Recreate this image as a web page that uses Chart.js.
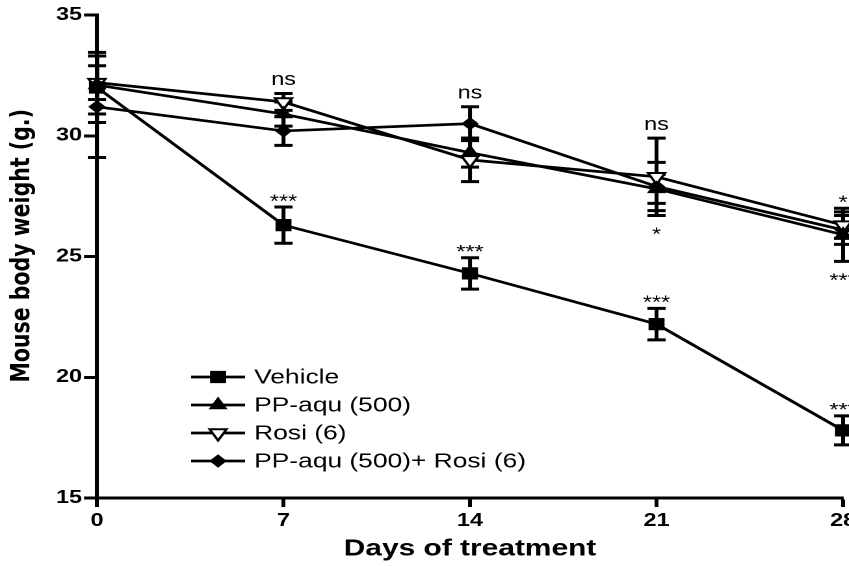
<!DOCTYPE html>
<html>
<head>
<meta charset="utf-8">
<script src="https://cdn.jsdelivr.net/npm/chart.js@4.4.1/dist/chart.umd.min.js"></script>
<style>
  html, body { margin: 0; padding: 0; background: #fff; overflow: hidden; }
  #wrap { width: 849px; height: 566px; overflow: hidden; }
  /* the original figure is stretched sideways, so the canvas is too */
  #myChart { display: block; transform: scaleX(1.3); transform-origin: 0 0; }
</style>
</head>
<body>
<div id="wrap"><canvas id="myChart" width="670" height="566"></canvas></div>
<script>
// days of treatment and mean body weight (g.) with error bars
var days = [0, 7, 14, 21, 28];
var seriesNames = ['Vehicle', 'PP-aqu (500)', 'Rosi (6)', 'PP-aqu (500)+ Rosi (6)'];
var vehicle    = [32.0, 26.3, 24.3, 22.2, 17.8];
var vehicleErr = [1.45, 0.75, 0.65, 0.65, 0.6];
var ppAqu      = [32.1, 30.9, 29.3, 27.8, 25.9];
var ppAquErr   = [1.2, 0.5, 0.6, 0.6, 1.1];
var rosi       = [32.2, 31.4, 29.0, 28.3, 26.3];
var rosiErr    = [0.7, 0.35, 0.9, 1.6, 0.55];
var combo      = [31.2, 30.2, 30.5, 27.9, 26.1];
var comboErr   = [2.1, 0.6, 0.7, 1.0, 0.6];
var yTicks = [15, 20, 25, 30, 35];

// significance marks: day, text, series it belongs to, above or below its error bar
var sigDays   = [7, 14, 21, 7, 14, 21, 28, 21, 28, 28];
var sigText   = ['ns', 'ns', 'ns', '***', '***', '***', '***', '*', '*', '***'];
var sigSeries = [2, 3, 2, 0, 0, 0, 0, 2, 1, 1];
var sigSide   = ['above', 'above', 'above', 'above', 'above', 'above', 'above', 'below', 'above', 'below'];

var seriesValues = [vehicle, ppAqu, rosi, combo];
var seriesErrors = [vehicleErr, ppAquErr, rosiErr, comboErr];

// marker look per series
var markers = [
  { style: 'rect', radius: 8, rotation: 0, fill: '#000' },
  { style: 'triangle', radius: 7.5, rotation: 0, fill: '#000' },
  { style: 'triangle', radius: 7.5, rotation: 180, fill: '#fff' },
  { style: 'rectRot', radius: 6, rotation: 0, fill: '#000' }
];

var datasets = seriesNames.map(function (name, s) {
  return {
    label: name,
    data: days.map(function (d, i) { return { x: d, y: seriesValues[s][i] }; }),
    borderColor: '#000',
    borderWidth: 2.7,
    tension: 0,
    pointStyle: markers[s].style,
    pointRadius: markers[s].radius,
    pointRotation: markers[s].rotation,
    pointBackgroundColor: markers[s].fill,
    pointBorderColor: '#000',
    pointBorderWidth: markers[s].fill === '#fff' ? 2 : 1,
    clip: false
  };
});

// vertical error bars with caps
var errorBars = {
  id: 'errorBars',
  beforeDatasetsDraw: function (chart) {
    var ctx = chart.ctx, y = chart.scales.y;
    ctx.save();
    ctx.strokeStyle = '#000';
    ctx.lineWidth = 3;
    chart.data.datasets.forEach(function (ds, s) {
      var meta = chart.getDatasetMeta(s);
      meta.data.forEach(function (pt, i) {
        var m = seriesValues[s][i], e = seriesErrors[s][i];
        var top = y.getPixelForValue(m + e), bot = y.getPixelForValue(m - e);
        ctx.beginPath();
        ctx.moveTo(pt.x, top); ctx.lineTo(pt.x, bot);
        ctx.moveTo(pt.x - 7, top); ctx.lineTo(pt.x + 7, top);
        ctx.moveTo(pt.x - 7, bot); ctx.lineTo(pt.x + 7, bot);
        ctx.stroke();
      });
    });
    ctx.restore();
  }
};

// ns / star labels over or under the error bars
var sigMarks = {
  id: 'sigMarks',
  afterDatasetsDraw: function (chart) {
    var ctx = chart.ctx, xs = chart.scales.x, ys = chart.scales.y;
    ctx.save();
    ctx.fillStyle = '#000';
    ctx.textAlign = 'center';
    ctx.textBaseline = 'alphabetic';
    ctx.font = '18px "Liberation Sans", Arial, sans-serif';
    sigDays.forEach(function (d, k) {
      var s = sigSeries[k], i = days.indexOf(d);
      var m = seriesValues[s][i], e = seriesErrors[s][i];
      var cx = xs.getPixelForValue(d);
      var center;
      if (sigSide[k] === 'above') center = ys.getPixelForValue(m + e) - (sigText[k] === 'ns' ? 13 : 10);
      else center = ys.getPixelForValue(m - e) + 15;
      // shift from glyph centre to baseline
      var base = center + (sigText[k] === 'ns' ? 4.7 : 10.3);
      ctx.fillText(sigText[k], cx, base);
    });
    ctx.restore();
  }
};

function drawMarker(ctx, mk, x, y) {
  var r = mk.radius;
  ctx.beginPath();
  if (mk.style === 'rect') {
    var h = r * Math.SQRT1_2;
    ctx.rect(x - h, y - h, 2 * h, 2 * h);
  } else if (mk.style === 'rectRot') {
    ctx.moveTo(x, y - r); ctx.lineTo(x + r, y); ctx.lineTo(x, y + r); ctx.lineTo(x - r, y);
    ctx.closePath();
  } else {
    var rot = mk.rotation * Math.PI / 180;
    for (var j = 0; j < 3; j++) {
      var a = rot + j * 2 * Math.PI / 3;
      var px = x + Math.sin(a) * r, py = y - Math.cos(a) * r;
      if (j === 0) ctx.moveTo(px, py); else ctx.lineTo(px, py);
    }
    ctx.closePath();
  }
  ctx.fillStyle = mk.fill;
  ctx.fill();
  ctx.lineWidth = mk.fill === '#fff' ? 2 : 1;
  ctx.strokeStyle = '#000';
  ctx.stroke();
}

// legend sitting inside the plot, lower left
var innerLegend = {
  id: 'innerLegend',
  afterDraw: function (chart) {
    var ctx = chart.ctx;
    var x0 = 147, x1 = 188.5, rowY = [377, 405, 433, 461];
    ctx.save();
    ctx.font = '20.3px "Liberation Sans", Arial, sans-serif';
    ctx.textBaseline = 'middle';
    ctx.textAlign = 'left';
    chart.data.datasets.forEach(function (ds, s) {
      var yy = rowY[s];
      ctx.strokeStyle = '#000';
      ctx.lineWidth = 2.7;
      ctx.beginPath(); ctx.moveTo(x0, yy); ctx.lineTo(x1, yy); ctx.stroke();
      drawMarker(ctx, markers[s], (x0 + x1) / 2, yy);
      ctx.fillStyle = '#000';
      ctx.fillText(ds.label, 195.5, yy + 1);
    });
    ctx.restore();
  }
};

var ctx = document.getElementById('myChart').getContext('2d');
var myChart = new Chart(ctx, {
  type: 'line',
  data: { datasets: datasets },
  options: {
    responsive: false,
    animation: false,
    devicePixelRatio: 2,
    layout: { padding: { top: 15, right: 21.5, left: 0, bottom: 0 } },
    plugins: { legend: { display: false }, tooltip: { enabled: false } },
    scales: {
      x: {
        type: 'linear',
        min: 0,
        max: 28,
        ticks: {
          stepSize: 7, color: '#000', padding: 3, maxRotation: 0,
          font: { family: '"Liberation Sans", Arial, sans-serif', weight: 'bold', size: 18 }
        },
        grid: { display: true, drawOnChartArea: false, drawTicks: true, tickLength: 9, tickWidth: 3, tickColor: '#000' },
        border: { display: true, width: 3, color: '#000' },
        title: {
          display: true,
          text: 'Days of treatment',
          color: '#000',
          font: { family: '"Liberation Sans", Arial, sans-serif', weight: 'bold', size: 23 },
          padding: { top: 0, bottom: 3 }
        },
        afterFit: function (scale) { scale.height = 68; }
      },
      y: {
        min: 15,
        max: 35,
        afterBuildTicks: function (scale) {
          scale.ticks = yTicks.map(function (v) { return { value: v }; });
        },
        ticks: {
          color: '#000', padding: 1.5,
          font: { family: '"Liberation Sans", Arial, sans-serif', weight: 'bold', size: 18 }
        },
        grid: { display: true, drawOnChartArea: false, drawTicks: true, tickLength: 10, tickWidth: 3, tickColor: '#000' },
        border: { display: true, width: 3, color: '#000' },
        title: {
          display: true,
          text: '   Mouse body weight (g.)',
          color: '#000',
          font: { family: '"DejaVu Sans", sans-serif', weight: 'bold', size: 20.5 },
          padding: { top: 5, bottom: 0 }
        },
        afterFit: function (scale) { scale.width = 74.6; }
      }
    }
  },
  plugins: [errorBars, sigMarks, innerLegend]
});
</script>
</body>
</html>
